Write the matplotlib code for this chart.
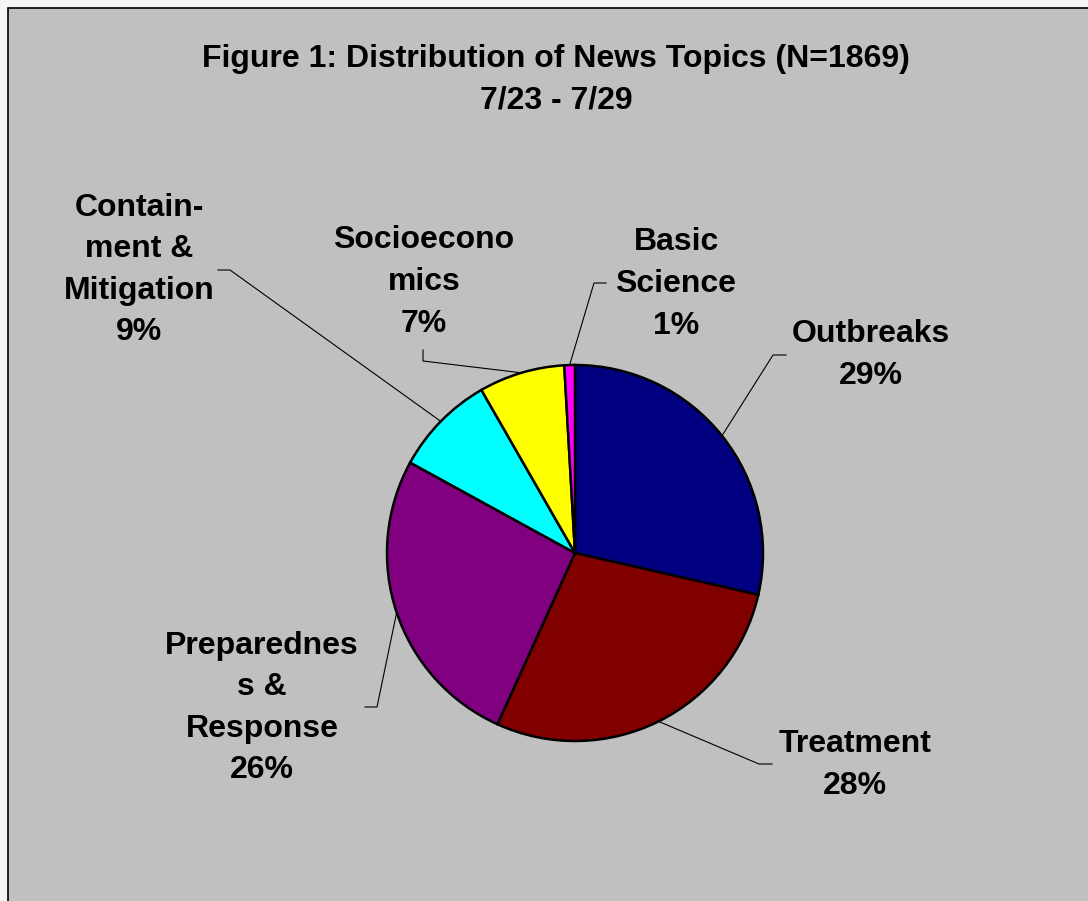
"""Pie chart of news topic distribution, week of 7/23 - 7/29."""
import matplotlib.pyplot as plt
import numpy as np
from matplotlib.patches import Rectangle

topics = ["Outbreaks", "Treatment", "Preparedness & Response",
          "Containment & Mitigation", "Socioeconomics", "Basic Science"]
label_text = ["Outbreaks", "Treatment", "Preparednes\ns &\nResponse",
              "Contain-\nment &\nMitigation", "Socioecono\nmics", "Basic\nScience"]
counts = [534, 527, 490, 163, 138, 17]
colors = ["#000080", "#800000", "#800080", "#00FFFF", "#FFFF00", "#FF00FF"]

# label placement (pixel coords, y measured from top) and leader-line elbows
label_pos = [(871, 355), (855, 765), (262, 708), (139, 270), (424, 282), (676, 284)]
elbows = [[(773, 355), (786, 355)],
          [(759, 764), (772, 764)],
          [(377, 707), (365, 707)],
          [(230, 270), (218, 270)],
          [(423, 361), (423, 350)],
          [(594, 283), (606, 283)]]

W, H = 1088, 901
CX, CY, R = 575, 553, 188

fig = plt.figure(figsize=(W / 100, H / 100), dpi=100, facecolor="#f6f6f6")
ax = fig.add_axes([0, 0, 1, 1])

# chart area
ax.add_patch(Rectangle((7.5, -5), W, H - 7.5 + 5, facecolor="#c0c0c0",
                       edgecolor="black", lw=1.2, zorder=0))

wedges, _ = ax.pie(counts, colors=colors, startangle=90, counterclock=False,
                   center=(CX, H - CY), radius=R, frame=True,
                   wedgeprops=dict(edgecolor="black", linewidth=1.8))
ax.set_xlim(0, W)
ax.set_ylim(0, H)
ax.set_aspect("equal")
ax.axis("off")

font = dict(family=["Liberation Sans", "DejaVu Sans"], fontweight="bold",
            fontsize=23, linespacing=1.5)

total = sum(counts)
for w, txt, n, (lx, ly), pts in zip(wedges, label_text, counts, label_pos, elbows):
    mid = np.deg2rad((w.theta1 + w.theta2) / 2)
    x0 = CX + R * np.cos(mid)
    y0 = (H - CY) + R * np.sin(mid)
    xs = [x0] + [p[0] for p in pts]
    ys = [y0] + [H - p[1] for p in pts]
    ax.plot(xs, ys, color="black", lw=0.8, zorder=1)
    ax.text(lx, H - ly, f"{txt}\n{round(100 * n / total)}%",
            ha="center", va="center", **font)

ax.text(556, H - 80, "Figure 1: Distribution of News Topics (N=1869)\n7/23 - 7/29",
        ha="center", va="center", **font)

fig.savefig("out.png", dpi=100, facecolor=fig.get_facecolor())
